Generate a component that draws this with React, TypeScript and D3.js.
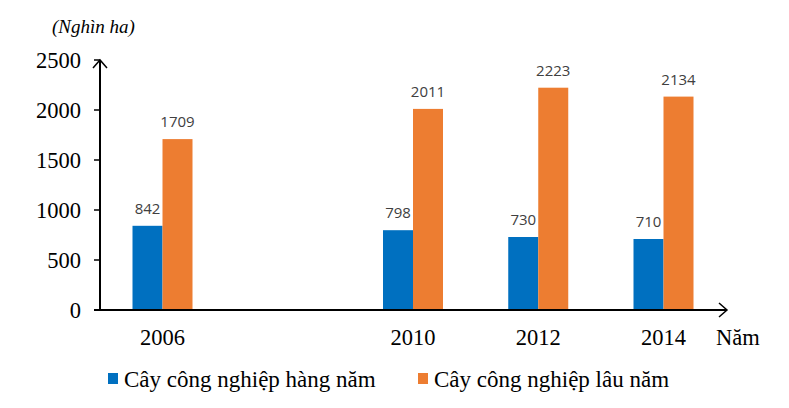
import * as d3 from "d3";

const years = [2006, 2010, 2012, 2014];
const annual = [842, 798, 730, 710];
const perennial = [1709, 2011, 2223, 2134];
const yTicks = [0, 500, 1000, 1500, 2000, 2500];
const seriesNames = ["Cây công nghiệp hàng năm", "Cây công nghiệp lâu năm"];
const colors = ["#0070C0", "#ED7D31"];

const W = 789;
const H = 408;
const serif = "'Liberation Serif', 'Times New Roman', serif";
const sans = "'Open Sans', 'DejaVu Sans', sans-serif";

export default function App() {
  const axisX = 100;
  const baseY = 310;
  const x = d3.scaleLinear().domain([2006, 2014]).range([162.5, 663.5]);
  const y = d3.scaleLinear().domain([0, 2500]).range([baseY, 60]);
  const barW = 30;

  const series = [annual, perennial];

  return (
    <svg
      width={W}
      height={H}
      viewBox={`0 0 ${W} ${H}`}
      style={{ position: "absolute", left: 0, top: 0, background: "#fff" }}
    >
      <text x={52} y={33} fontFamily={serif} fontStyle="italic" fontSize={19} fill="#000">
        (Nghìn ha)
      </text>

      {series.map((vals, si) =>
        vals.map((v, i) => {
          const bx = si === 0 ? x(years[i]) - barW : x(years[i]);
          return (
            <g key={`${si}-${i}`}>
              <rect x={bx} y={y(v)} width={barW} height={baseY - y(v)} fill={colors[si]} />
              <text
                x={bx + barW / 2}
                y={y(v) - 12}
                textAnchor="middle"
                fontFamily={sans}
                fontSize={15}
                fill="#404040"
              >
                {v}
              </text>
            </g>
          );
        })
      )}

      {/* y axis */}
      <line x1={axisX} y1={baseY} x2={axisX} y2={60} stroke="#000" strokeWidth={2} />
      <polyline points={`${axisX - 7},68 ${axisX},60 ${axisX + 7},68`} fill="none" stroke="#000" strokeWidth={1.5} />
      {yTicks.map((t) => (
        <g key={t}>
          <line x1={axisX - 6} x2={axisX} y1={y(t)} y2={y(t)} stroke="#000" strokeWidth={1.5} />
          <text
            x={81}
            y={y(t) + 7.5}
            textAnchor="end"
            fontFamily={serif}
            fontSize={22.5}
            fill="#000"
          >
            {t}
          </text>
        </g>
      ))}

      {/* x axis */}
      <line x1={94} y1={baseY} x2={727} y2={baseY} stroke="#000" strokeWidth={2} />
      <polyline points={`719,303 727,310 719,317`} fill="none" stroke="#000" strokeWidth={1.5} />
      {years.map((yr) => (
        <text
          key={yr}
          x={x(yr)}
          y={345}
          textAnchor="middle"
          fontFamily={serif}
          fontSize={22.5}
          fill="#000"
        >
          {yr}
        </text>
      ))}
      <text x={716} y={345} fontFamily={serif} fontSize={22.5} fill="#000">
        Năm
      </text>

      {/* legend */}
      {seriesNames.map((name, i) => {
        const lx = i === 0 ? 108 : 418;
        return (
          <g key={name}>
            <rect x={lx} y={373} width={10} height={11} fill={colors[i]} />
            <text x={lx + 16} y={387} fontFamily={serif} fontSize={23} fill="#000">
              {name}
            </text>
          </g>
        );
      })}
    </svg>
  );
}
